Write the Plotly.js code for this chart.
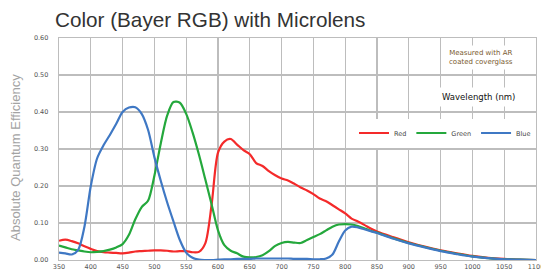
<!DOCTYPE html>
<html><head><meta charset="utf-8">
<script src="https://cdn.plot.ly/plotly-3.0.1.min.js"></script>
<style>html,body{margin:0;padding:0;background:#fff}#chart{width:541px;height:272px}</style>
</head><body><div id="chart"></div>
<script>
const wavelength = [350,360,370,380,390,400,410,420,430,440,450,460,470,480,490,500,510,520,530,540,550,560,570,580,590,600,610,620,630,640,650,660,670,680,690,700,710,720,730,740,750,760,770,780,790,800,810,820,830,840,850,875,900,925,950,975,1000,1025,1050,1075,1100];
const red = [0.052,0.055,0.051,0.045,0.037,0.030,0.024,0.021,0.020,0.019,0.018,0.020,0.023,0.024,0.025,0.026,0.026,0.025,0.023,0.024,0.024,0.021,0.022,0.045,0.150,0.290,0.320,0.327,0.312,0.297,0.286,0.262,0.254,0.240,0.229,0.220,0.215,0.206,0.196,0.188,0.178,0.166,0.159,0.148,0.137,0.126,0.112,0.104,0.095,0.085,0.077,0.062,0.048,0.036,0.026,0.018,0.011,0.006,0.003,0.001,0.000];
const green = [0.039,0.034,0.029,0.026,0.023,0.021,0.022,0.024,0.028,0.034,0.043,0.068,0.110,0.143,0.160,0.228,0.315,0.390,0.427,0.425,0.395,0.345,0.285,0.218,0.150,0.080,0.040,0.025,0.018,0.009,0.007,0.008,0.013,0.024,0.038,0.046,0.049,0.047,0.046,0.054,0.062,0.070,0.080,0.090,0.096,0.097,0.096,0.092,0.086,0.079,0.074,0.059,0.046,0.035,0.025,0.017,0.010,0.005,0.002,0.001,0.000];
const blue = [0.020,0.018,0.015,0.027,0.090,0.200,0.275,0.310,0.338,0.368,0.400,0.412,0.413,0.395,0.352,0.278,0.214,0.156,0.104,0.054,0.020,0.006,0.001,0.000,0.000,0.001,0.002,0.002,0.003,0.003,0.003,0.004,0.004,0.004,0.004,0.004,0.004,0.003,0.003,0.003,0.002,0.002,0.004,0.015,0.050,0.080,0.090,0.088,0.083,0.078,0.073,0.058,0.045,0.034,0.024,0.016,0.009,0.005,0.002,0.001,0.000];
const seriesNames = ['Red','Green','Blue'];
const xTicks = [350,400,450,500,550,600,650,700,750,800,850,900,950,1000,1050,1100];
const yTicks = [0,0.1,0.2,0.3,0.4,0.5,0.6];

const colors = ['#f42a2a','#24a83c','#3f78c4'];
const data = [red, green, blue].map((ys, i) => ({
  x: wavelength, y: ys, name: seriesNames[i], type: 'scatter', mode: 'lines',
  line: {color: colors[i], width: 2.2, shape: 'spline', smoothing: 0.8}
}));

const layout = {
  width: 541, height: 272,
  margin: {l: 59, r: 5, t: 38, b: 12},
  paper_bgcolor: '#fff', plot_bgcolor: '#fff',
  title: {text: 'Color (Bayer RGB) with Microlens', xref: 'container', yref: 'container',
    x: 55/541, xanchor: 'left', y: 1 - 20/272, yanchor: 'middle',
    font: {family: 'Liberation Sans, Arial, sans-serif', size: 20.7, color: '#333'}},
  xaxis: {range: [350, 1100], tickvals: xTicks, ticktext: xTicks.map(String),
    showgrid: true, gridcolor: '#bdbdbd', gridwidth: 1.3, zeroline: false,
    showline: true, linecolor: '#bdbdbd', linewidth: 1.3, mirror: true, ticks: '',
    ticklabeloverflow: 'allow',
    tickfont: {family: 'DejaVu Sans, Verdana, sans-serif', size: 6.5, color: '#555'}},
  yaxis: {range: [0, 0.6], tickvals: yTicks, ticktext: yTicks.map(v => v.toFixed(2)),
    showgrid: true, gridcolor: '#bdbdbd', gridwidth: 1.3, zeroline: false,
    showline: true, linecolor: '#bdbdbd', linewidth: 1.3, mirror: true, ticks: '',
    ticklabelstandoff: 8,
    tickfont: {family: 'DejaVu Sans, Verdana, sans-serif', size: 6.5, color: '#555'}},
  showlegend: true,
  legend: {orientation: 'h', x: 1.0, xanchor: 'right', y: (260-133)/222, yanchor: 'middle',
    bgcolor: '#fff', itemwidth: 30, tracegroupgap: 0,
    font: {family: 'DejaVu Sans, Verdana, sans-serif', size: 6.5, color: '#444'}},
  annotations: [
    {text: 'Measured with AR<br>coated coverglass', xref: 'paper', yref: 'paper',
     x: (481-59)/477, y: (260-57)/222, xanchor: 'center', yanchor: 'middle', showarrow: false,
     bgcolor: '#fff', borderpad: 3,
     font: {family: 'DejaVu Sans, Verdana, sans-serif', size: 7, color: '#7a5a2e'}},
    {text: 'Wavelength (nm)', xref: 'paper', yref: 'paper',
     x: (478-59)/477, y: (260-97)/222, xanchor: 'center', yanchor: 'middle', showarrow: false,
     bgcolor: '#fff', borderpad: 4,
     font: {family: 'DejaVu Sans, Verdana, sans-serif', size: 8.5, color: '#111'}},
    {text: 'Absolute Quantum Efficiency', xref: 'paper', yref: 'paper',
     x: -44/477, y: (260-158)/222, xanchor: 'center', yanchor: 'middle', textangle: -90, showarrow: false,
     font: {family: 'Liberation Sans, Arial, sans-serif', size: 13, color: '#a3a3a3'}}
  ]
};
Plotly.newPlot('chart', data, layout, {displayModeBar: false, staticPlot: true});
</script></body></html>
